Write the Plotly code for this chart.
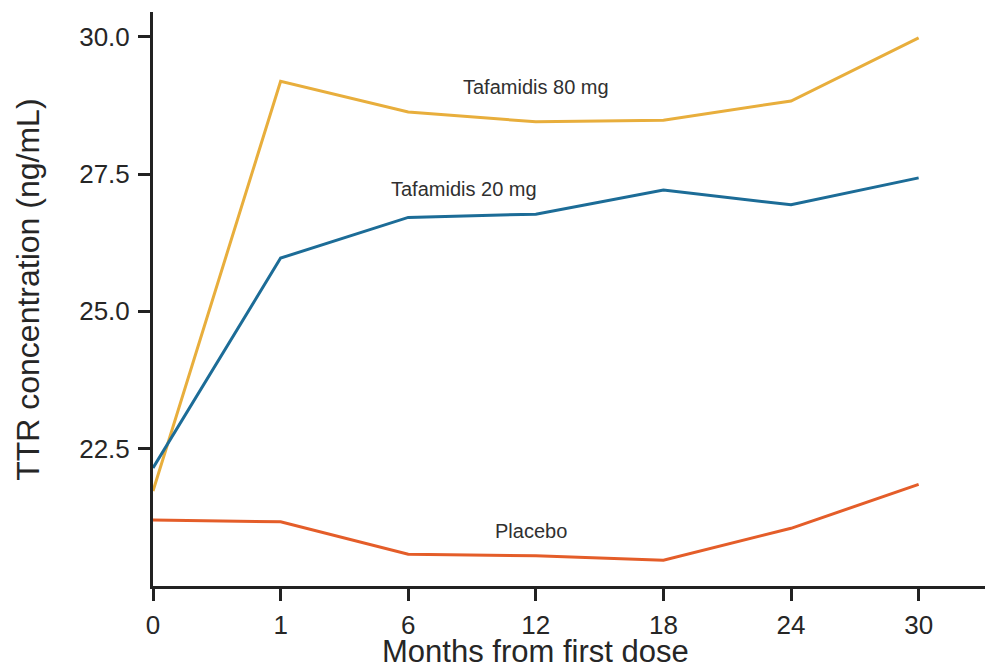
import plotly.graph_objects as go

months = ["0", "1", "6", "12", "18", "24", "30"]
taf80 = [21.73, 29.19, 28.63, 28.45, 28.48, 28.83, 29.98]
taf20 = [22.15, 25.97, 26.71, 26.77, 27.21, 26.94, 27.43]
placebo = [21.20, 21.17, 20.58, 20.55, 20.47, 21.05, 21.85]
ytick_vals = [22.5, 25.0, 27.5, 30.0]
ytick_text = ["22.5", "25.0", "27.5", "30.0"]

series = [
    ("Tafamidis 80 mg", taf80, "#E8AE3C"),
    ("Tafamidis 20 mg", taf20, "#1C6C97"),
    ("Placebo", placebo, "#E45D29"),
]

xpos = list(range(len(months)))
fig = go.Figure()
for name, vals, col in series:
    fig.add_trace(go.Scatter(x=xpos, y=vals, mode="lines", name=name,
                             line=dict(color=col, width=3), showlegend=False))

font = "Liberation Sans, Arial, sans-serif"
txt = "#262626"

labels = [("Tafamidis 80 mg", 3.005, 29.08), ("Tafamidis 20 mg", 2.435, 27.22), ("Placebo", 2.96, 21.01)]
for t, x, y in labels:
    fig.add_annotation(x=x, y=y, text=t, showarrow=False,
                       font=dict(family=font, size=20, color="#303030"))

fig.add_annotation(x=3.0, xref="x", y=-0.08, yref="paper", yanchor="top",
                   text="Months from first dose", showarrow=False,
                   font=dict(family=font, size=31, color=txt))
fig.add_annotation(x=0, xref="paper", xanchor="center", xshift=-125, y=0.516, yref="paper",
                   yanchor="middle",
                   text="TTR concentration (ng/mL)", textangle=-90, showarrow=False,
                   font=dict(family=font, size=32, color=txt))

fig.update_layout(
    width=985, height=668,
    margin=dict(l=153, r=0, t=12, b=82, autoexpand=False),
    paper_bgcolor="white", plot_bgcolor="white",
    font=dict(family=font, color=txt),
)
fig.update_xaxes(range=[0, 6.52], tickvals=xpos, ticktext=months, automargin=False,
                 showgrid=False, zeroline=False, showline=True, linecolor="#222222",
                 linewidth=3, ticks="outside", ticklen=12, tickwidth=3, tickcolor="#222222",
                 ticklabelstandoff=2,
                 tickfont=dict(family=font, size=26, color=txt))
fig.update_yaxes(range=[20, 30.45], tickvals=ytick_vals, ticktext=ytick_text, automargin=False,
                 showgrid=False, zeroline=False, showline=True, linecolor="#222222",
                 linewidth=3, ticks="outside", ticklen=12, tickwidth=3, tickcolor="#222222",
                 ticklabelstandoff=3,
                 tickfont=dict(family=font, size=26, color=txt))

fig.write_html("out.html", config={"displayModeBar": False},
               post_script="document.body.style.margin='0';document.body.style.overflow='hidden';")
